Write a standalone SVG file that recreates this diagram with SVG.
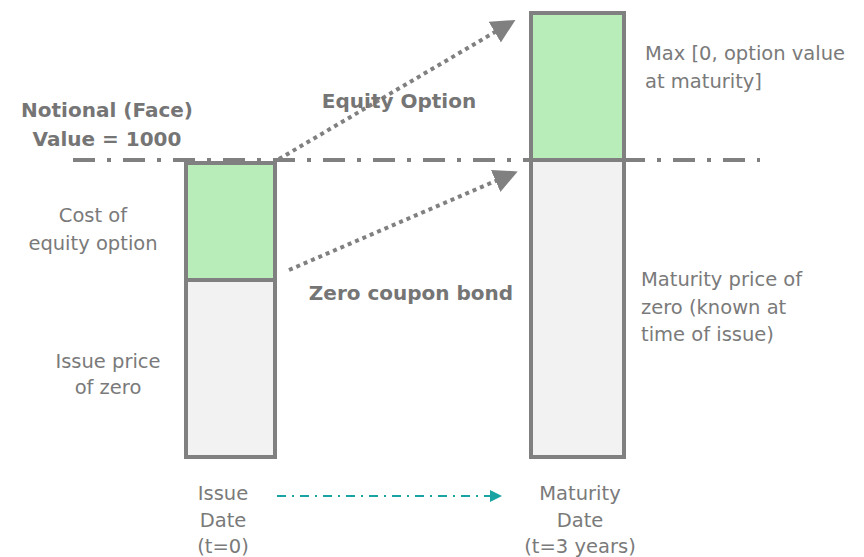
<svg xmlns="http://www.w3.org/2000/svg" width="864" height="557" viewBox="0 0 864 557">
<style>
.bar{stroke:#808080;stroke-width:4}
.g{fill:#b8ecb8}
.z{fill:#f2f2f2}
.b{font-family:"DejaVu Sans",Verdana,sans-serif;font-weight:bold;font-size:20px;fill:#757575}
.t{font-family:"DejaVu Sans",Verdana,sans-serif;font-size:19.5px;fill:#7a7a7a}
.dot{stroke:#808080;stroke-width:4;stroke-dasharray:4 4;fill:none}
</style>
<defs>
<marker id="ah" markerWidth="6" markerHeight="6" refX="5" refY="3" orient="auto" markerUnits="strokeWidth"><path d="M0,0 L6,3 L0,6 z" fill="#808080"/></marker>
<marker id="at" markerWidth="6" markerHeight="6" refX="5" refY="3" orient="auto" markerUnits="strokeWidth"><path d="M0,0 L6,3 L0,6 z" fill="#1aa3a3"/></marker>
</defs>
<g id="connectors">
<line x1="73" y1="160" x2="760" y2="160" stroke="#808080" stroke-width="4" stroke-dasharray="22 12 4 12"/>
<line class="dot" x1="279" y1="159" x2="512" y2="22" marker-end="url(#ah)"/>
<line class="dot" x1="289" y1="270" x2="514" y2="173" marker-end="url(#ah)"/>
<line x1="277" y1="496" x2="500" y2="496" stroke="#1aa3a3" stroke-width="2" stroke-dasharray="9 6 2 6" marker-end="url(#at)"/>
</g>
<g id="issue-bar">
<rect class="bar g" x="186" y="163" width="89" height="117"/>
<rect class="bar z" x="186" y="280" width="89" height="177"/>
</g>
<g id="maturity-bar">
<rect class="bar g" x="531" y="13" width="93" height="147"/>
<rect class="bar z" x="531" y="160" width="93" height="297"/>
</g>
<g id="labels">
<text class="b" x="107" y="117" text-anchor="middle">Notional (Face)</text>
<text class="b" x="107" y="146" text-anchor="middle">Value = 1000</text>
<text class="b" x="399" y="108" text-anchor="middle">Equity Option</text>
<text class="b" x="411" y="300" text-anchor="middle">Zero coupon bond</text>
<text class="t" x="93" y="222" text-anchor="middle">Cost of</text>
<text class="t" x="93" y="250" text-anchor="middle">equity option</text>
<text class="t" x="108" y="368" text-anchor="middle">Issue price</text>
<text class="t" x="108" y="394" text-anchor="middle">of zero</text>
<text class="t" x="645" y="60">Max [0, option value</text>
<text class="t" x="645" y="88">at maturity]</text>
<text class="t" x="641" y="286">Maturity price of</text>
<text class="t" x="641" y="314">zero (known at</text>
<text class="t" x="641" y="341">time of issue)</text>
<text class="t" x="223" y="500" text-anchor="middle">Issue</text>
<text class="t" x="223" y="527" text-anchor="middle">Date</text>
<text class="t" x="223" y="553" text-anchor="middle">(t=0)</text>
<text class="t" x="580" y="500" text-anchor="middle">Maturity</text>
<text class="t" x="580" y="527" text-anchor="middle">Date</text>
<text class="t" x="580" y="553" text-anchor="middle">(t=3 years)</text>
</g>
</svg>
